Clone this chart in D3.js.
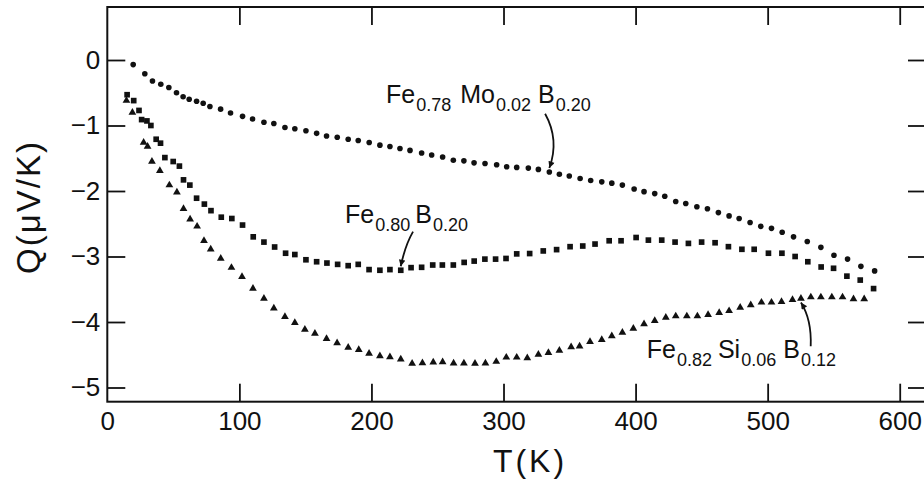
<!DOCTYPE html>
<html>
<head>
<meta charset="utf-8">
<script src="https://cdn.jsdelivr.net/npm/d3@7"></script>
<style>
  html, body { margin: 0; padding: 0; background: #fff; }
  svg { display: block; }
  text { font-family: "Liberation Sans", Arial, sans-serif; fill: #111; }
</style>
</head>
<body>
<svg id="chart" width="924" height="480"></svg>
<script>
// ---------------- DATA ----------------
// Fe0.78 Mo0.02 B0.20  (circles)  [T (K), Q (uV/K)]
const feMoB = [
  [19.6,-0.07],[28.4,-0.21],[34.2,-0.32],[40.5,-0.37],[46.6,-0.42],[52.4,-0.50],[57.4,-0.56],[62,-0.60],
  [67.6,-0.63],[72.6,-0.66],[77.7,-0.71],[85.8,-0.75],[93.3,-0.81],[102.4,-0.86],[110,-0.90],[118.6,-0.95],
  [126.1,-0.97],[134.5,-1.03],[142,-1.05],[150.4,-1.08],[158.5,-1.12],[166,-1.16],[174.1,-1.18],[182.4,-1.21],
  [190,-1.23],[198.3,-1.26],[206.4,-1.30],[214,-1.32],[221.6,-1.35],[229.2,-1.38],[238,-1.42],[245.6,-1.45],
  [253.9,-1.48],[262,-1.53],[270,-1.54],[277.7,-1.57],[286,-1.58],[294.8,-1.60],[302.4,-1.63],[310,-1.64],
  [318.8,-1.65],[326.4,-1.67],[334.7,-1.71],[342.3,-1.745],[349.8,-1.77],[358,-1.81],[366,-1.84],[374.4,-1.86],
  [382,-1.88],[390,-1.91],[398.9,-1.97],[406.4,-2.01],[414.5,-2.04],[422.1,-2.08],[430.4,-2.16],[438,-2.19],
  [446.4,-2.24],[454.4,-2.27],[462.7,-2.33],[470.8,-2.38],[478.4,-2.42],[486.7,-2.48],[494.8,-2.54],[502.9,-2.57],
  [511,-2.63],[519.6,-2.70],[530,-2.77],[540.3,-2.86],[550.2,-2.98],[560.5,-3.04],[570.6,-3.15],[581,-3.22]
];
// Fe0.80 B0.20  (squares)
const feB = [
  [15,-0.53],[20,-0.62],[24,-0.77],[26,-0.91],[30,-0.93],[33,-1.00],[37,-1.21],[40.3,-1.27],
  [43.6,-1.49],[49.9,-1.55],[54.6,-1.62],[57.7,-1.83],[62.5,-1.91],[67.6,-2.11],[73.5,-2.20],[78.5,-2.30],
  [86.3,-2.40],[94.3,-2.42],[102.4,-2.52],[110.5,-2.70],[118.6,-2.78],[126.7,-2.855],[135,-2.95],[142,-2.97],
  [150.4,-3.05],[158.5,-3.08],[166.3,-3.10],[174.4,-3.12],[182.4,-3.14],[190,-3.12],[198.2,-3.20],[206.4,-3.21],
  [214,-3.20],[222.2,-3.21],[230,-3.17],[238,-3.165],[246.4,-3.13],[253.7,-3.13],[262,-3.13],[270.2,-3.09],
  [277.8,-3.07],[285.9,-3.04],[294,-3.04],[301.9,-3.03],[310,-2.96],[319.8,-2.955],[330.1,-2.915],[340.2,-2.895],
  [350.4,-2.85],[360,-2.84],[369.3,-2.81],[380,-2.76],[389,-2.76],[400.4,-2.71],[409.7,-2.75],[419.8,-2.75],
  [429.9,-2.78],[440,-2.80],[450,-2.78],[460.2,-2.79],[470.3,-2.85],[480.5,-2.89],[489.8,-2.89],[500.6,-2.95],
  [510.8,-2.95],[520.8,-3.00],[530.4,-3.08],[540.5,-3.16],[549.9,-3.18],[560,-3.30],[570.1,-3.36],[580.2,-3.49]
];
// Fe0.82 Si0.06 B0.12  (triangles)
const feSiB = [
  [14.5,-0.62],[19,-0.80],[27.5,-1.26],[30.5,-1.32],[33.8,-1.55],[39.8,-1.69],[47,-1.91],[52.7,-2.02],
  [57.7,-2.27],[62.7,-2.43],[68,-2.54],[73.2,-2.76],[78.3,-2.89],[85.9,-3.03],[94,-3.17],[102,-3.31],
  [110.3,-3.49],[118.6,-3.64],[126.1,-3.79],[134.5,-3.92],[142,-4.01],[149.6,-4.115],[157.2,-4.175],[166,-4.255],
  [174,-4.32],[182.4,-4.39],[190.4,-4.425],[198.2,-4.48],[206.4,-4.52],[214,-4.535],[222.2,-4.57],[230.8,-4.635],
  [238.6,-4.625],[246.8,-4.615],[253.9,-4.61],[262.2,-4.63],[270,-4.63],[278.4,-4.635],[286.3,-4.63],[294.5,-4.605],
  [302.1,-4.54],[310,-4.54],[318,-4.55],[326.4,-4.495],[334,-4.47],[342.3,-4.435],[351.2,-4.38],[357.6,-4.37],
  [365.5,-4.30],[374.4,-4.27],[382,-4.215],[390,-4.16],[398.3,-4.10],[406.4,-4.03],[414.5,-3.98],[422.9,-3.93],
  [430.4,-3.91],[438.8,-3.91],[446.8,-3.91],[454.9,-3.89],[463.3,-3.86],[470.8,-3.83],[479.2,-3.78],[487.2,-3.74],
  [495.3,-3.70],[502.9,-3.70],[510.5,-3.69],[518.8,-3.66],[525.2,-3.64],[532.7,-3.62],[540.3,-3.62],[548.6,-3.62],
  [556.7,-3.62],[565,-3.65],[573.1,-3.65]
];

const xTicks = [0, 100, 200, 300, 400, 500, 600];
const yTicks = [0, -1, -2, -3, -4, -5];
const xTitle = "T(K)";
const yTitle = "Q(\u03BCV/K)";

// Annotation labels: [text, isSubscript]
const label1 = [["Fe",false],["0.78",true],["Mo",false],["0.02",true],["B",false],["0.20",true]];
const label2 = [["Fe",false],["0.80",true],["B",false],["0.20",true]];
const label3 = [["Fe",false],["0.82",true],["Si",false],["0.06",true],["B",false],["0.12",true]];

// ---------------- LAYOUT ----------------
(function () {
const svg = d3.select("#chart");
const pL = 107.3, pR = 926, pT = 7, pB = 401.7;

const x = d3.scaleLinear().domain([0, 620]).range([pL, pL + 620 * 1.3207]);
const y = d3.scaleLinear().domain([0, -5]).range([60, 387.5]);

const ink = "#111";

// axes
const tickLen = 18;
const gB = svg.append("g").attr("transform", `translate(0,${pB})`)
  .call(d3.axisBottom(x).tickValues(xTicks).tickSizeInner(-tickLen).tickSizeOuter(0).tickPadding(10).tickFormat(d3.format("d")));
const gT = svg.append("g").attr("transform", `translate(0,${pT})`)
  .call(d3.axisTop(x).tickValues(xTicks.filter(d => d > 0)).tickSizeInner(-tickLen).tickSizeOuter(0).tickFormat(""));
const gL = svg.append("g").attr("transform", `translate(${pL},0)`)
  .call(d3.axisLeft(y).tickValues(yTicks).tickSizeInner(-tickLen).tickSizeOuter(0).tickPadding(7).tickFormat(d3.format("d")));
const gR = svg.append("g").attr("transform", `translate(${pR},0)`)
  .call(d3.axisRight(y).tickValues(yTicks).tickSizeInner(-tickLen).tickSizeOuter(0).tickFormat(""));

[gB, gT, gL, gR].forEach(g => {
  g.select(".domain").remove();
  g.selectAll(".tick line").attr("stroke", ink).attr("stroke-width", 1.8);
  g.selectAll(".tick text").attr("fill", ink).style("font-size", "26px")
    .style("font-family", "'Liberation Sans', Arial, sans-serif");
});
gB.selectAll(".tick").filter(d => d === 0).select("line").remove();

// frame
svg.append("rect")
  .attr("x", pL).attr("y", pT)
  .attr("width", pR - pL).attr("height", pB - pT)
  .attr("fill", "none").attr("stroke", ink).attr("stroke-width", 2);

// axis titles
svg.append("text")
  .attr("x", 530).attr("y", 472)
  .attr("text-anchor", "middle")
  .style("font-size", "32px").style("letter-spacing", "3px")
  .text(xTitle);
svg.append("text")
  .attr("transform", "translate(40,207) rotate(-90)")
  .attr("text-anchor", "middle")
  .style("font-size", "33px").style("letter-spacing", "2px")
  .text(yTitle);

// data marks
const plot = svg.append("g");
plot.selectAll("circle.moB").data(feMoB).join("circle")
  .attr("class", "moB")
  .attr("cx", d => x(d[0])).attr("cy", d => y(d[1])).attr("r", 2.8).attr("fill", ink);

const sq = d3.symbol().type(d3.symbolSquare).size(32);
plot.selectAll("path.feB").data(feB).join("path")
  .attr("class", "feB")
  .attr("transform", d => `translate(${x(d[0])},${y(d[1])})`)
  .attr("d", sq).attr("fill", ink);

const tri = d3.symbol().type(d3.symbolTriangle).size(26);
plot.selectAll("path.siB").data(feSiB).join("path")
  .attr("class", "siB")
  .attr("transform", d => `translate(${x(d[0])},${y(d[1])})`)
  .attr("d", tri).attr("fill", ink);

// annotations: one text element per label, pieces flow as tspans
function drawLabel(pieces, T0, Q0, gaps) {
  const t = svg.append("text").attr("x", x(T0)).attr("y", y(Q0));
  let shifted = false;
  pieces.forEach((p, i) => {
    const sp = t.append("tspan")
      .style("font-size", p[1] ? "18px" : "25px")
      .text(p[0]);
    let dy = 0;
    if (p[1] && !shifted) { dy = 8; shifted = true; }
    else if (!p[1] && shifted) { dy = -8; shifted = false; }
    if (dy) sp.attr("dy", dy);
    if (i > 0) sp.attr("dx", gaps[i - 1]);
  });
}
drawLabel(label1, x.invert(386), y.invert(103), [1, 9, 1, 7, 1]);
drawLabel(label2, x.invert(345), y.invert(223), [1, 5, 1]);
drawLabel(label3, x.invert(646.7), y.invert(358.3), [1, 6, 1, 7, 1]);

// arrows
const defs = svg.append("defs");
defs.append("marker")
  .attr("id", "ah").attr("viewBox", "0 0 10 10")
  .attr("refX", 10).attr("refY", 5)
  .attr("markerWidth", 10).attr("markerHeight", 6.5)
  .attr("markerUnits", "userSpaceOnUse")
  .attr("orient", "auto")
  .append("path").attr("d", "M0,0 L10,5 L0,10 Z").attr("fill", ink);

function arrow(p0, p1, p2) {
  svg.append("path")
    .attr("d", `M${p0[0]},${p0[1]} Q${p1[0]},${p1[1]} ${p2[0]},${p2[1]}`)
    .attr("fill", "none").attr("stroke", ink).attr("stroke-width", 1.8)
    .attr("marker-end", "url(#ah)");
}
// arrow 1 -> circle series near T~335
arrow([x(331.5), y(-0.82)], [x(342.5), y(-1.22)], [x(334.7), y(-1.71) - 4]);
// arrow 2 -> square series near T~222
arrow([x(231.5), y(-2.62)], [x(225.5), y(-2.83)], [x(222.2), y(-3.21) - 4]);
// arrow 3 -> triangle series near T~525
arrow([x(532.6), y(-4.37)], [x(533.4), y(-3.96)], [x(525.2), y(-3.64) + 4]);
})();
</script>
</body>
</html>
